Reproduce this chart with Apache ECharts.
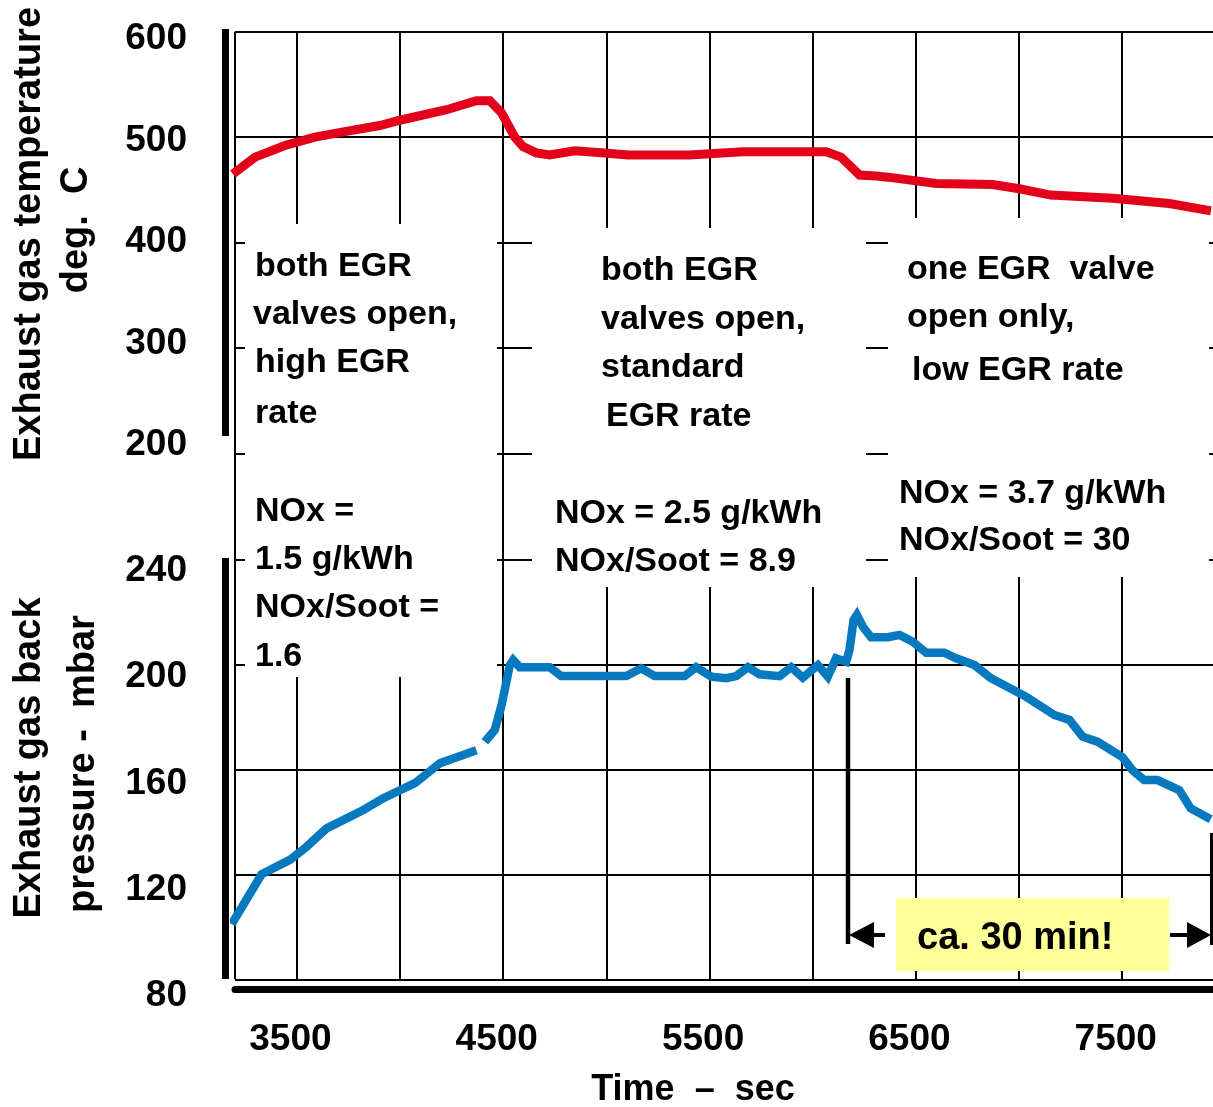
<!DOCTYPE html>
<html>
<head>
<meta charset="utf-8">
<script src="https://cdn.jsdelivr.net/npm/echarts@6/dist/echarts.min.js"></script>
<style>
html,body{margin:0;padding:0;background:#fff;}
#chart{width:1213px;height:1107px;}
</style>
</head>
<body>
<div id="chart"></div>
<script>
// ---- data ----
const timeGridValues = [3200, 3500, 4000, 4500, 5000, 5500, 6000, 6500, 7000, 7500];
const timeLabels = [3500, 4500, 5500, 6500, 7500];
const tempTicks = [200, 300, 400, 500, 600];
const pressureTicks = [80, 120, 160, 200, 240];

const tempTime = [3190, 3297, 3442, 3587, 3725, 3902, 3999, 4225, 4370, 4435, 4492, 4556, 4596, 4660, 4725, 4846, 4992, 5105, 5403, 5661, 5944, 6065, 6137, 6227, 6307, 6364, 6598, 6872, 7001, 7154, 7453, 7728, 7930];
const tempValues = [465, 481, 492, 500, 505, 511, 516, 526, 534.5, 534.5, 523, 500, 491, 485, 483, 487, 485, 483, 483, 486, 486, 486, 481, 464, 463, 462, 456, 455, 451, 445, 442, 437, 430];

const pressTime = [3184, 3329, 3466, 3547, 3644, 3822, 3919, 4072, 4193, 4370, 4390, 4411, 4459, 4492, 4532, 4548, 4580, 4725, 4781, 5096, 5169, 5234, 5379, 5435, 5508, 5581, 5629, 5686, 5742, 5839, 5896, 5952, 6025, 6073, 6113, 6162, 6178, 6198, 6214, 6243, 6283, 6364, 6421, 6485, 6550, 6638, 6695, 6784, 6864, 7033, 7171, 7244, 7308, 7380, 7501, 7549, 7606, 7671, 7776, 7832, 7929];
const pressValues = [101, 120, 125.5, 130.5, 137.5, 144.5, 149, 154.7, 162.3, 167.3, null, 170.5, 175, 184.5, 199.7, 201.6, 198.9, 198.9, 195.5, 195.5, 198.5, 195.5, 195.5, 198.9, 195.3, 194.7, 195.5, 198.9, 196.2, 195.5, 198.9, 194.9, 199.7, 195.3, 202.3, 201, 205.4, 216.9, 218.8, 214.3, 210.3, 210.3, 211.2, 208.6, 204.4, 204.4, 202.3, 199.7, 194.7, 187.7, 180.7, 178.8, 172.4, 170.5, 164.6, 159.7, 155.9, 155.9, 152.1, 145.1, 141];

const X_MIN = 3200, X_MAX = 7940;

// annotation texts
const box1Lines = ["both EGR", "valves open,", "high EGR", "rate", "NOx =", "1.5 g/kWh", "NOx/Soot =", "1.6"];
const box2Lines = ["both EGR", "valves open,", "standard", "EGR rate", "NOx = 2.5 g/kWh", "NOx/Soot = 8.9"];
const box3Lines = ["one EGR  valve", "open only,", "low EGR rate", "NOx = 3.7 g/kWh", "NOx/Soot = 30"];

// ---- layout / styles ----
const FONT = "'Liberation Sans', Arial, Helvetica, sans-serif";
const RED = '#e2001a', BLUE = '#0779bf';
const tFont = "bold 34px " + FONT;
const titleFont = "bold 38px " + FONT;

function txt(x, y, s, font, align, rot) {
  const el = {
    type: 'text', x: x, y: y, z: 4,
    style: { text: s, font: font || tFont, fill: '#000',
      textAlign: align || 'left', textVerticalAlign: 'middle',
      align: align || 'left', verticalAlign: 'middle' }
  };
  if (rot) el.rotation = rot;
  return el;
}

const box1Pos = [[255,267],[253,315],[255,363],[255,414],[255,512],[255,560],[255,608],[255,657]];
const box2Pos = [[601,271],[601,320],[601,368],[606,417],[555,514],[555,562]];
const box3Pos = [[907,270],[907,318],[912,371],[899,494],[899,541]];

const graphics = [
  // white boxes hiding the grid behind the explanatory texts
  { type: 'rect', z: 1, shape: { x: 245, y: 224, width: 252, height: 453 }, style: { fill: '#fff' } },
  { type: 'rect', z: 1, shape: { x: 532, y: 228, width: 334, height: 359 }, style: { fill: '#fff' } },
  { type: 'rect', z: 1, shape: { x: 888, y: 218, width: 321, height: 359 }, style: { fill: '#fff' } },
  // thick left bars
  { type: 'rect', z: 3, shape: { x: 222, y: 29, width: 7, height: 407 }, style: { fill: '#000' } },
  { type: 'rect', z: 3, shape: { x: 222, y: 558, width: 7, height: 421 }, style: { fill: '#000' } },
  // axis titles
  txt(30, 234, 'Exhaust gas temperature', titleFont, 'center', Math.PI / 2),
  txt(77, 230, 'deg.  C', titleFont, 'center', Math.PI / 2),
  txt(30, 758, 'Exhaust gas back', titleFont, 'center', Math.PI / 2),
  txt(84, 764, 'pressure -  mbar', titleFont, 'center', Math.PI / 2),
  txt(693, 1090, 'Time  \u2013  sec', "bold 36px " + FONT, 'center'),
  // "ca. 30 min!" annotation
  { type: 'line', z: 5, shape: { x1: 848, y1: 678, x2: 848, y2: 944 }, style: { stroke: '#000', lineWidth: 4.5 } },
  { type: 'line', z: 5, shape: { x1: 860, y1: 935, x2: 885, y2: 935 }, style: { stroke: '#000', lineWidth: 4 } },
  { type: 'polygon', z: 5, shape: { points: [[849, 935], [874, 922], [874, 948]] }, style: { fill: '#000' } },
  { type: 'line', z: 5, shape: { x1: 1170, y1: 935, x2: 1195, y2: 935 }, style: { stroke: '#000', lineWidth: 4 } },
  { type: 'polygon', z: 5, shape: { points: [[1211, 935], [1187, 922], [1187, 948]] }, style: { fill: '#000' } },
  { type: 'line', z: 5, shape: { x1: 1211.5, y1: 833, x2: 1211.5, y2: 945 }, style: { stroke: '#000', lineWidth: 3 } },
  { type: 'rect', z: 5, shape: { x: 896, y: 898, width: 273, height: 73 }, style: { fill: '#ffff99' } }
];
const annot = txt(917, 939, 'ca. 30 min!', "bold 38px " + FONT, 'left');
annot.z = 6;
graphics.push(annot);
box1Lines.forEach((s, i) => graphics.push(txt(box1Pos[i][0], box1Pos[i][1], s)));
box2Lines.forEach((s, i) => graphics.push(txt(box2Pos[i][0], box2Pos[i][1], s)));
box3Lines.forEach((s, i) => graphics.push(txt(box3Pos[i][0], box3Pos[i][1], s)));

const gridLine = { show: true, lineStyle: { color: '#000', width: 2, type: 'solid' } };
const labelStyle = { fontSize: 37, fontWeight: 'bold', color: '#000', fontFamily: FONT };
const noGrid = { containLabel: false, outerBoundsMode: 'none' };
const hiddenX = (g) => ({ gridIndex: g, type: 'value', min: X_MIN, max: X_MAX, show: false });
const labelOnlyY = (g, ticks, step) => ({
  gridIndex: g, type: 'value', min: ticks[0], max: ticks[ticks.length - 1], interval: step,
  axisLine: { show: false }, axisTick: { show: false }, splitLine: { show: false },
  axisLabel: Object.assign({ margin: 48, formatter: v => String(v) }, labelStyle)
});
const gridOnlyY = (g, ticks, step) => ({
  gridIndex: g, type: 'value', min: ticks[0], max: ticks[ticks.length - 1], interval: step,
  axisLine: { show: false }, axisTick: { show: false }, axisLabel: { show: false },
  splitLine: gridLine
});

const chart = echarts.init(document.getElementById('chart'), null, { renderer: 'canvas' });
chart.setOption({
  animation: false,
  backgroundColor: '#fff',
  textStyle: { fontFamily: FONT },
  grid: [
    Object.assign({ left: 235, right: 0, top: 31.7, height: 947.6 }, noGrid),   // frame: vertical grid lines + time axis
    Object.assign({ left: 235, right: 0, top: 31.7, height: 421.6 }, noGrid),   // temperature panel
    Object.assign({ left: 235, right: 0, top: 559.3, height: 420 }, noGrid),    // back pressure panel
    Object.assign({ left: 235, right: 0, top: 39, height: 406 }, noGrid),       // temperature tick labels (as placed in the original)
    Object.assign({ left: 235, right: 0, top: 571, height: 425 }, noGrid)       // pressure tick labels (as placed in the original)
  ],
  xAxis: [
    {
      gridIndex: 0, type: 'value', min: X_MIN, max: X_MAX, offset: 10,
      axisLine: { show: true, onZero: false, lineStyle: { color: '#000', width: 7 } },
      axisTick: { show: false, customValues: timeGridValues },
      axisLabel: Object.assign({ customValues: timeLabels, margin: 32, padding: [0, 13, 0, 0], formatter: v => String(v) }, labelStyle),
      splitLine: gridLine
    },
    hiddenX(1), hiddenX(2), hiddenX(3), hiddenX(4)
  ],
  yAxis: [
    { gridIndex: 0, type: 'value', show: false, splitLine: { show: false } },
    gridOnlyY(1, tempTicks, 100),
    gridOnlyY(2, pressureTicks, 40),
    labelOnlyY(3, tempTicks, 100),
    labelOnlyY(4, pressureTicks, 40)
  ],
  graphic: graphics,
  series: [
    {
      type: 'line', xAxisIndex: 1, yAxisIndex: 1, z: 2,
      data: tempTime.map((t, i) => [t, tempValues[i]]),
      symbol: 'none', showSymbol: false, clip: false,
      lineStyle: { color: RED, width: 9, join: 'miter' }
    },
    {
      type: 'line', xAxisIndex: 2, yAxisIndex: 2, z: 2,
      data: pressTime.map((t, i) => [t, pressValues[i]]),
      symbol: 'none', showSymbol: false, clip: false, connectNulls: false,
      lineStyle: { color: BLUE, width: 8.5, join: 'miter' }
    }
  ]
});
</script>
</body>
</html>
